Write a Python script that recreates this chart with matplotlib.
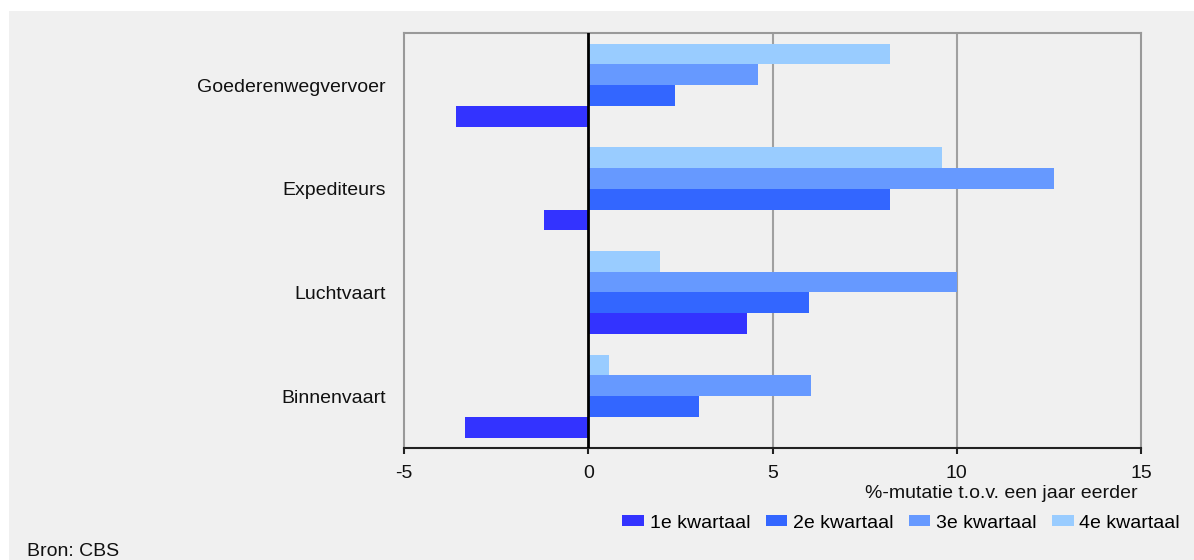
import numpy as np
import matplotlib
matplotlib.use("Agg")
import matplotlib.pyplot as plt
from matplotlib.patches import Rectangle

plt.rcParams['font.family'] = ['Liberation Sans', 'DejaVu Sans']
plt.rcParams['axes.unicode_minus'] = False

# sectors, listed top to bottom
sectors = ['Goederenwegvervoer', 'Expediteurs', 'Luchtvaart', 'Binnenvaart']
quarters = ['1e kwartaal', '2e kwartaal', '3e kwartaal', '4e kwartaal']

# %-mutatie per kwartaal, same order as sectors
q1 = [-3.6, -1.2, 4.3, -3.35]
q2 = [2.35, 8.2, 6.0, 3.0]
q3 = [4.6, 12.65, 10.0, 6.05]
q4 = [8.2, 9.6, 1.95, 0.55]

colors = ['#3333ff', '#3366ff', '#6699ff', '#99ccff']
bg = '#f0f0f0'
fs = 14

fig = plt.figure(figsize=(11.94, 5.6), dpi=100, facecolor='white')
fig.patches.append(Rectangle((9 / 1194, 0), 1, 1 - 11 / 560, transform=fig.transFigure,
                             facecolor=bg, edgecolor='none', zorder=-10))

ax = fig.add_axes([404 / 1194, 0.2, 737 / 1194, 0.7405])
ax.set_facecolor(bg)

y = np.arange(len(sectors))[::-1]
h = 0.2
for i, (vals, name) in enumerate(zip([q1, q2, q3, q4], quarters)):
    ax.barh(y + (i - 1.5) * h, vals, height=h, color=colors[i], label=name, zorder=3)

ax.set_xlim(-5, 15)
ax.set_ylim(-0.5, 3.5)
ax.set_xticks([-5, 0, 5, 10, 15])
ax.set_yticks(y)
ax.set_yticklabels(sectors)

for x in [5, 10]:
    ax.axvline(x, color='#a0a0a0', lw=1.5, zorder=1)
ax.axvline(0, color='black', lw=2, zorder=4)

for side in ['left', 'top', 'right']:
    ax.spines[side].set_color('#999999')
    ax.spines[side].set_linewidth(1.5)
ax.spines['bottom'].set_color('#222222')
ax.spines['bottom'].set_linewidth(1.5)

ax.tick_params(axis='y', length=0, pad=13, labelsize=fs, labelcolor='#111111')
ax.tick_params(axis='x', direction='out', length=4, width=1.5, color='#222222',
               pad=8, labelsize=fs, labelcolor='#111111')

fig.text(1138 / 1194, 1 - 493 / 560, '%-mutatie t.o.v. een jaar eerder',
         ha='right', va='center', fontsize=fs, color='#111111')

leg = fig.legend(loc='center right', bbox_to_anchor=(1180 / 1194, 1 - 523 / 560),
                 ncol=4, frameon=False, fontsize=fs, handlelength=1.1,
                 handleheight=0.55, handletextpad=0.3, columnspacing=0.8,
                 borderaxespad=0, borderpad=0)

fig.text(27 / 1194, 1 - 551 / 560, 'Bron: CBS', ha='left', va='center',
         fontsize=fs, color='#111111')

fig.savefig('out.png', dpi=100, facecolor=fig.get_facecolor())
